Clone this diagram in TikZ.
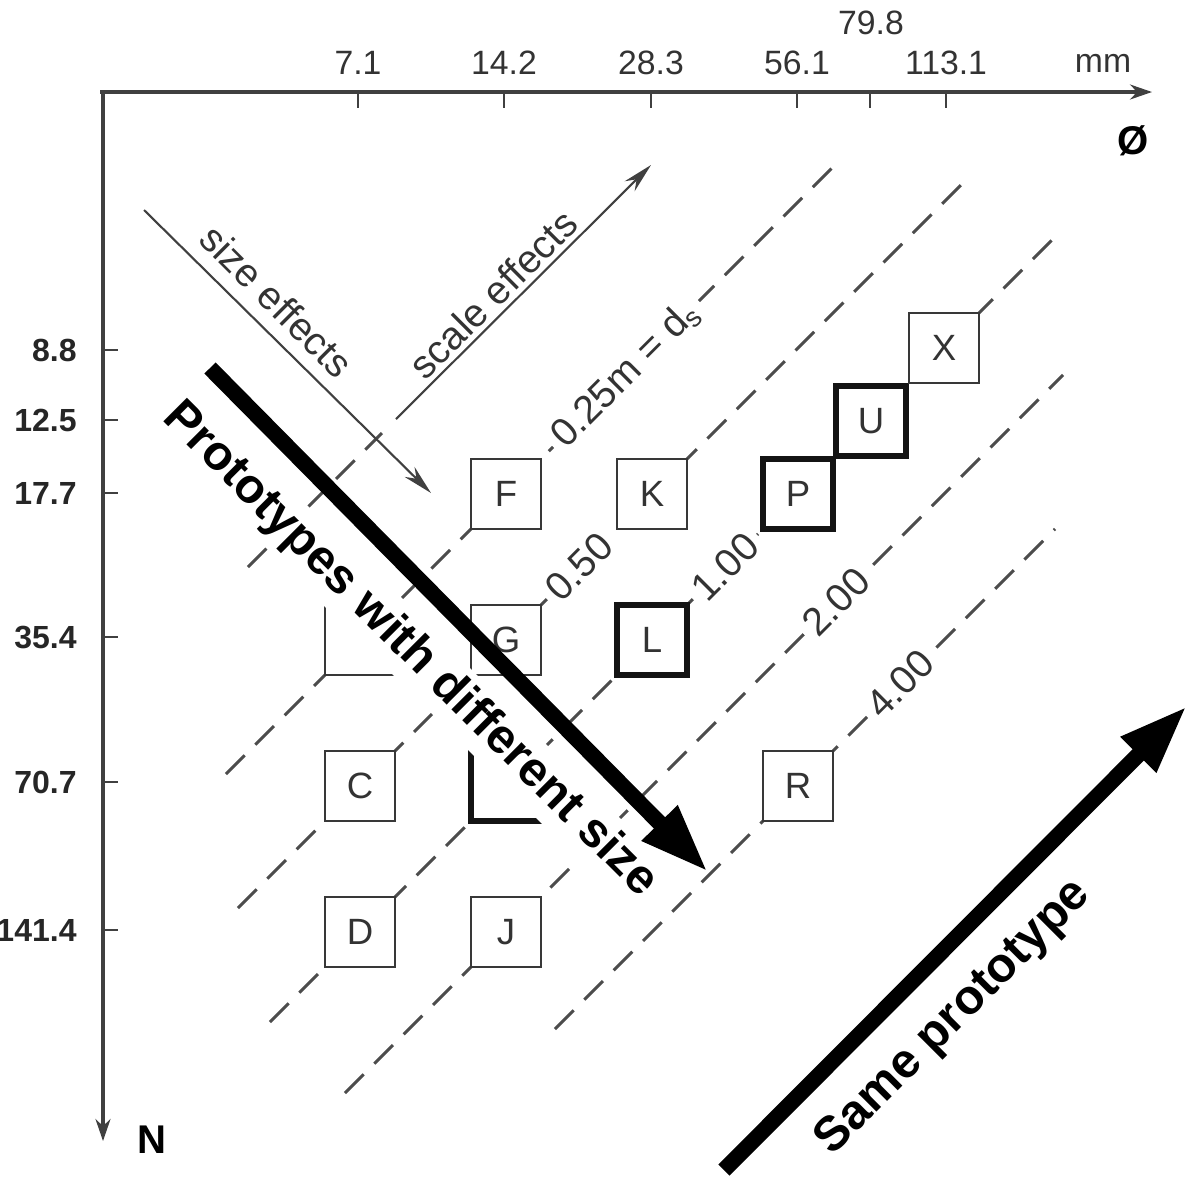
\documentclass[tikz,border=0pt]{standalone}
\usepackage{fontspec}
\setmainfont{Liberation Sans}
\usetikzlibrary{arrows.meta}
\begin{document}
\begin{tikzpicture}[x=0.01cm,y=-0.01cm,
  axisline/.style={draw=black!75, line width=0.9pt},
  tickln/.style={draw=black!75, line width=0.8pt},
  dline/.style={draw=black!70, line width=0.85pt, dash pattern=on 7.5pt off 4.3pt},
  cell/.style={draw=black!78, fill=white, line width=0.75pt, minimum size=0.7cm, inner sep=0pt, text=black!80, font=\fontsize{10.4}{12}\selectfont},
  cellb/.style={cell, draw=black!92, line width=1.6pt},
  lbl/.style={fill=white, inner sep=2pt, rotate=45, text=black!80, font=\fontsize{11.2}{13}\selectfont},
  toplbl/.style={text=black!80, font=\fontsize{9.6}{11}\selectfont},
  leftlbl/.style={anchor=east, text=black!85, font=\bfseries\fontsize{9.1}{11}\selectfont},
  thinarrow/.style={draw=black!75, line width=0.6pt, -{Stealth[length=0.3cm,width=0.14cm]}},
  efftext/.style={text=black!80, font=\fontsize{11.2}{13}\selectfont},
  bigarrow/.style={draw=black, line width=4.5pt, -{Triangle[length=0.69cm,width=0.46cm]}},
  bigtext/.style={text=black, font=\bfseries\fontsize{13.8}{16}\selectfont}
]
\useasboundingbox (0,0) rectangle (1200,1187);

% ---------- axes ----------
\coordinate (o) at (100,92);
\coordinate (xend) at (1152,92);
\coordinate (oy) at (103,90);
\coordinate (yend) at (103,1141);
\draw[axisline, -{Stealth[length=0.22cm,width=0.15cm]}] (o) -- (xend);
\draw[axisline, -{Stealth[length=0.22cm,width=0.15cm]}] (oy) -- (yend);

% x ticks
\foreach \xx/\tt [count=\i] in {358/7.1, 504/14.2, 651/28.3, 797/56.1, 946/113.1}{
  \coordinate (xt\i) at (\xx,92);
  \coordinate (xtb\i) at (\xx,108);
  \draw[tickln] (xt\i) -- (xtb\i);
  \node[toplbl] (xl\i) at (\xx,63) {\tt};
}
\coordinate (xt6) at (870,92);
\coordinate (xtb6) at (870,108);
\draw[tickln] (xt6) -- (xtb6);
\node[toplbl] (xl6) at (871,23) {79.8};
\node[toplbl] (mm) at (1103,63) {mm};
\node[text=black, font=\bfseries\fontsize{11.4}{13}\selectfont] (phi) at (1133,141) {Ø};

% y ticks
\foreach \yy/\tt [count=\i] in {350/8.8, 420/12.5, 493/17.7, 637/35.4, 782/70.7, 930/141.4}{
  \coordinate (yt\i) at (103,\yy);
  \coordinate (ytb\i) at (118,\yy);
  \draw[tickln] (yt\i) -- (ytb\i);
  \node[leftlbl] (yl\i) at (89,\yy) {\tt};
}
\node[text=black, font=\bfseries\fontsize{11.4}{13}\selectfont] (nlab) at (152,1140) {N};

% ---------- dashed iso-lines ----------
\coordinate (a0) at (248,567);  \coordinate (b0) at (382,433);
\coordinate (a1) at (226,774);  \coordinate (b1) at (838,162);
\coordinate (a2) at (238,908);  \coordinate (b2) at (965,181);
\coordinate (a3) at (270,1022); \coordinate (b3) at (1053,239);
\coordinate (a4) at (345,1093); \coordinate (b4) at (1063,375);
\coordinate (a5) at (555,1029); \coordinate (b5) at (1055,529);
\draw[dline] (a0) -- (b0);
\draw[dline] (a1) -- (b1);
\draw[dline] (a2) -- (b2);
\draw[dline] (a3) -- (b3);
\draw[dline] (a4) -- (b4);
\draw[dline] (a5) -- (b5);

% ---------- boxes ----------
\node[cell]  (F) at (506,494) {F};
\node[cell]  (K) at (652,494) {K};
\node[cellb] (P) at (798,494) {P};
\node[cellb] (U) at (871,421) {U};
\node[cell]  (X) at (944,348) {X};
\node[cell]  (B) at (360,640) {};
\node[cell]  (G) at (506,640) {G};
\node[cellb] (L) at (652,640) {L};
\node[cell]  (C) at (360,786) {C};
\node[cellb] (H) at (506,786) {};
\node[cell]  (R) at (798,786) {R};
\node[cell]  (D) at (360,932) {D};
\node[cell]  (J) at (506,932) {J};

% ---------- line labels ----------
\node[lbl] (l025) at (626,374) {0.25m = d\textsubscript{s}};
\node[lbl] (l050) at (579,567) {0.50};
\node[lbl] (l100) at (725,567) {1.00};
\node[lbl] (l200) at (836,602) {2.00};
\node[lbl] (l400) at (900,684) {4.00};

% ---------- effects arrows ----------
\coordinate (se1) at (144,210); \coordinate (se2) at (431,493);
\coordinate (sc1) at (396,419); \coordinate (sc2) at (651,165);
\draw[thinarrow] (se1) -- (se2);
\draw[thinarrow] (sc1) -- (sc2);
\node[efftext, rotate=-45] (sizeeff) at (277,301) {size effects};
\node[efftext, rotate=45] (scaleeff) at (493,294) {scale effects};

% ---------- overlay ----------
\node[bigtext, rotate=-45, fill=white, inner sep=2pt] (proto) at (410,650) {Prototypes with different size};
\coordinate (p1) at (210,368); \coordinate (p2) at (708,872);
\draw[bigarrow] (p1) -- (p2);
\coordinate (s1) at (724,1170); \coordinate (s2) at (1187,706);
\draw[bigarrow] (s1) -- (s2);
\node[bigtext, rotate=45] (same) at (954,1018) {Same prototype};
\end{tikzpicture}
\end{document}
